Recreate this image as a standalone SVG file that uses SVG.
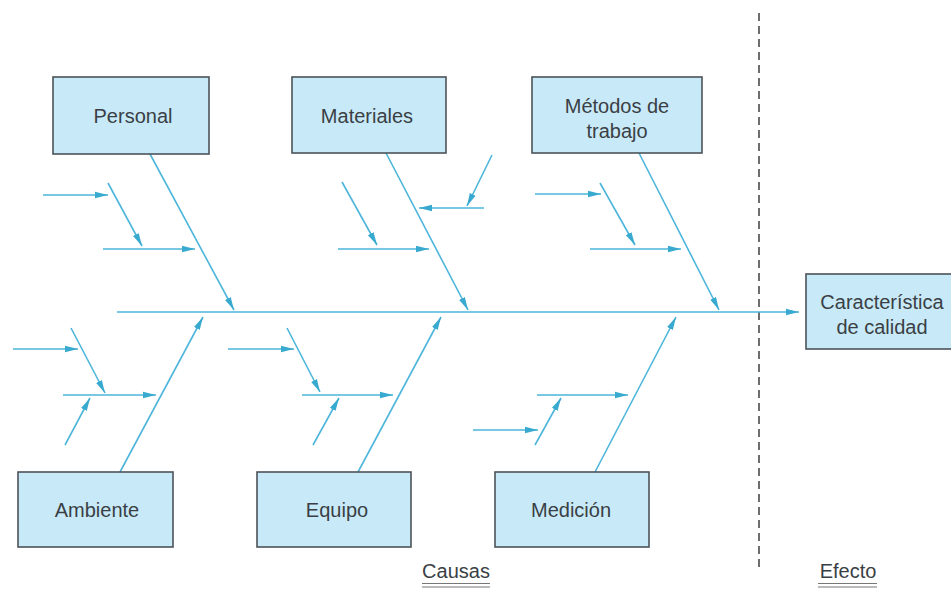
<svg xmlns="http://www.w3.org/2000/svg" width="951" height="592" viewBox="0 0 951 592">
  <defs>
    <marker id="arr" markerUnits="userSpaceOnUse" markerWidth="14" markerHeight="8" refX="13" refY="4" orient="auto">
      <path d="M0,0.8 L13,4 L0,7.2 Z" fill="#38a9cf"/>
    </marker>
    <style>
      .box { fill: #c8eaf8; stroke: #4d5358; stroke-width: 1.6; }
      .lbl { font-family: "Liberation Sans", Arial, sans-serif; font-size: 20px; fill: #3a3f45; text-anchor: middle; }
      .ln { stroke: #4db6da; stroke-width: 1.6; fill: none; }
      .ar { stroke: #4db6da; stroke-width: 1.6; fill: none; marker-end: url(#arr); }
      .sep { stroke: #4a4a4a; stroke-width: 1.6; stroke-dasharray: 8 5; }
      .ul { stroke: #777; stroke-width: 1.2; }
    </style>
  </defs>

  <rect width="951" height="592" fill="#ffffff"/>

  <!-- cause / effect separator -->
  <line class="sep" x1="759" y1="13" x2="759" y2="570"/>

  <g id="connectors">
    <!-- spine -->
    <line class="ar" x1="117" y1="312" x2="799" y2="312"/>

    <!-- main bones, upper row -->
    <line class="ar" x1="150" y1="154" x2="234" y2="310"/>
    <line class="ar" x1="386" y1="153" x2="468" y2="310"/>
    <line class="ar" x1="639" y1="153" x2="719" y2="310"/>

    <!-- main bones, lower row -->
    <line class="ar" x1="120" y1="472" x2="203" y2="317"/>
    <line class="ar" x1="358" y1="472" x2="441" y2="317"/>
    <line class="ar" x1="595" y1="472" x2="676" y2="317"/>

    <!-- Personal sub-causes -->
    <line class="ar" x1="43" y1="195" x2="108" y2="195"/>
    <line class="ar" x1="108" y1="183" x2="142" y2="246"/>
    <line class="ar" x1="103" y1="249" x2="195" y2="249"/>

    <!-- Materiales sub-causes -->
    <line class="ar" x1="342" y1="182" x2="377" y2="245"/>
    <line class="ar" x1="338" y1="249" x2="429" y2="249"/>
    <line class="ar" x1="492" y1="155" x2="467" y2="206"/>
    <line class="ar" x1="484" y1="208" x2="419" y2="208"/>

    <!-- Métodos de trabajo sub-causes -->
    <line class="ar" x1="535" y1="194" x2="601" y2="194"/>
    <line class="ar" x1="600" y1="183" x2="635" y2="245"/>
    <line class="ar" x1="590" y1="249" x2="681" y2="249"/>

    <!-- Ambiente sub-causes -->
    <line class="ar" x1="13" y1="349" x2="78" y2="349"/>
    <line class="ar" x1="71" y1="328" x2="105" y2="393"/>
    <line class="ar" x1="63" y1="395" x2="156" y2="395"/>
    <line class="ar" x1="65" y1="445" x2="90" y2="398"/>

    <!-- Equipo sub-causes -->
    <line class="ar" x1="228" y1="349" x2="294" y2="349"/>
    <line class="ar" x1="287" y1="328" x2="320" y2="392"/>
    <line class="ar" x1="302" y1="395" x2="393" y2="395"/>
    <line class="ar" x1="313" y1="445" x2="339" y2="398"/>

    <!-- Medición sub-causes -->
    <line class="ar" x1="537" y1="395" x2="628" y2="395"/>
    <line class="ar" x1="535" y1="445" x2="561" y2="398"/>
    <line class="ar" x1="473" y1="430" x2="538" y2="430"/>
  </g>

  <g id="personal">
    <rect class="box" x="53" y="77" width="156" height="77"/>
    <text class="lbl" x="133" y="123">Personal</text>
  </g>
  <g id="materiales">
    <rect class="box" x="292" y="77" width="154" height="76"/>
    <text class="lbl" x="367" y="123">Materiales</text>
  </g>
  <g id="metodos">
    <rect class="box" x="532" y="77" width="170" height="76"/>
    <text class="lbl" x="617" y="113">Métodos de</text>
    <text class="lbl" x="617" y="138">trabajo</text>
  </g>
  <g id="ambiente">
    <rect class="box" x="18" y="472" width="155" height="75"/>
    <text class="lbl" x="97" y="517">Ambiente</text>
  </g>
  <g id="equipo">
    <rect class="box" x="257" y="472" width="154" height="75"/>
    <text class="lbl" x="337" y="517">Equipo</text>
  </g>
  <g id="medicion">
    <rect class="box" x="495" y="472" width="154" height="75"/>
    <text class="lbl" x="571" y="517">Medición</text>
  </g>
  <g id="caracteristica">
    <rect class="box" x="806" y="274" width="152" height="75"/>
    <text class="lbl" x="882" y="309">Característica</text>
    <text class="lbl" x="882" y="334">de calidad</text>
  </g>

  <g id="causas">
    <text class="lbl" x="456" y="578">Causas</text>
    <line class="ul" x1="422" y1="583.5" x2="490" y2="583.5"/>
    <line class="ul" x1="422" y1="587" x2="490" y2="587"/>
  </g>
  <g id="efecto">
    <text class="lbl" x="848" y="578">Efecto</text>
    <line class="ul" x1="818" y1="583.5" x2="877" y2="583.5"/>
    <line class="ul" x1="818" y1="587" x2="877" y2="587"/>
  </g>
</svg>
